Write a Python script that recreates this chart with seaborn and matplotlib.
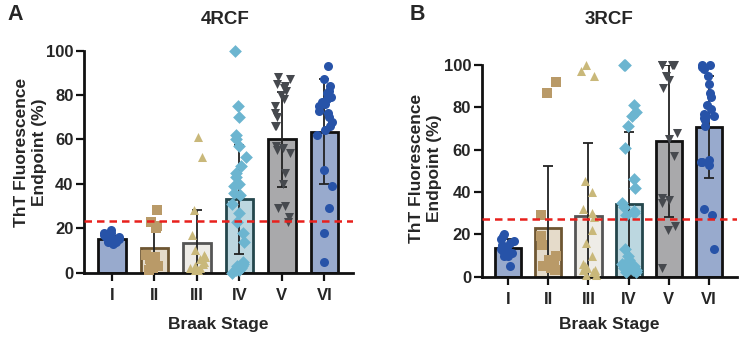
import numpy as np
import pandas as pd
import seaborn as sns
import matplotlib.pyplot as plt

sns.set_theme(style="ticks")
plt.rcParams["font.family"] = ["Liberation Sans", "DejaVu Sans"]
plt.rcParams["font.weight"] = "bold"
np.random.seed(3)

stages = ["I", "II", "III", "IV", "V", "VI"]

# panel A - 4RCF
a_pts = {
    "I": [13, 14, 14, 15, 15, 16, 16, 17, 17, 18, 18, 19],
    "II": [28, 23, 21, 20, 8, 7, 6, 5, 4, 3, 2, 1],
    "III": [61, 52, 28, 17, 10, 8, 7, 6, 5, 4, 3, 2, 2, 1, 1],
    "IV": [100, 75, 70, 62, 60, 57, 52, 48, 45, 43, 40, 39, 36, 35, 31, 27, 23,
           18, 14, 5, 4, 3, 3, 2, 2, 1, 1, 0],
    "V": [88, 87, 85, 84, 83, 82, 80, 78, 75, 72, 70, 66, 66, 57, 56, 55, 54, 45,
          40, 30, 29, 25, 23],
    "VI": [93, 87, 84, 82, 81, 79, 78, 77, 76, 75, 73, 72, 70, 68, 66, 64, 62, 46,
           39, 29, 18, 5],
}
a_mean = [15, 11, 13.5, 33, 60, 63.5]
a_sd = [1.5, 10, 14.5, 24.5, 21.5, 23.5]
a_cut = 23.3

# panel B - 3RCF
b_pts = {
    "I": [20, 19, 18, 17, 16, 15, 14, 13, 12, 11, 11, 10, 10, 5],
    "II": [92, 87, 29, 19, 15, 10, 8, 6, 5, 5, 4, 3],
    "III": [100, 97, 95, 45, 40, 32, 30, 28, 22, 16, 10, 6, 5, 4, 3, 3, 2, 2, 1, 1],
    "IV": [100, 100, 81, 78, 76, 71, 61, 46, 42, 35, 33, 31, 30, 29, 13, 10, 8, 6,
           5, 5, 4, 4, 3, 3, 2, 2],
    "V": [100, 100, 100, 100, 100, 95, 93, 89, 68, 65, 57, 37, 36, 35, 24, 22, 4],
    "VI": [100, 100, 99, 98, 95, 91, 87, 85, 81, 79, 77, 76, 76, 75, 74, 71, 55, 54,
           54, 53, 32, 29, 13],
}
b_mean = [13.7, 23, 28.8, 34.5, 64, 70.6]
b_sd = [4, 29.4, 34.4, 33.7, 36, 24]
b_cut = 27.3

bar_fill = ["#8fa7d6", "#e9dcc6", "#efece6", "#b6dae6", "#a9a9ab", "#8fa7d6"]
bar_edge = ["#111111", "#6e5632", "#555555", "#24464c", "#111111", "#111111"]
pt_color = ["#2753a8", "#b99a68", "#c9b87a", "#6cb5d0", "#46494e", "#2753a8"]
markers = ["o", "s", "^", "D", "v", "o"]


def panel(ax, pts, means, sds, cut, xlab_y, ylab_x, ylab_y):
    sns.barplot(x=stages, y=means, hue=stages, palette=bar_fill, legend=False,
                width=0.65, ax=ax, zorder=1)
    for p, ec in zip(ax.patches, bar_edge):
        p.set_edgecolor(ec)
        p.set_linewidth(2)
    ax.errorbar(range(len(stages)), means, yerr=sds, fmt="none", ecolor="#222222",
                elinewidth=1.3, capsize=3.5, capthick=1.3, zorder=2)
    for i, s in enumerate(stages):
        sns.stripplot(x=[s] * len(pts[s]), y=pts[s], order=stages, color=pt_color[i],
                      marker=markers[i], size=6.5, linewidth=0, jitter=0.2, ax=ax,
                      zorder=3, clip_on=False)
    ax.axhline(cut, color="#e8201c", ls=(0, (3, 2)), lw=1.8, zorder=4)
    ax.set_ylim(0, 100)
    ax.set_xlim(-0.66, 5.68)
    ax.set_yticks([0, 20, 40, 60, 80, 100])
    ax.set_xlabel("Braak Stage", fontsize=12.5, fontweight="bold")
    ax.set_ylabel("ThT Fluorescence\nEndpoint (%)", fontsize=12.5, fontweight="bold")
    ax.xaxis.set_label_coords(0.5, xlab_y)
    ax.yaxis.set_label_coords(ylab_x, ylab_y)
    ax.tick_params(axis="both", width=1.6, length=6, labelsize=12, color="#111111")
    ax.tick_params(axis="x", pad=5)
    ax.tick_params(axis="y", pad=1.5)
    for lab in ax.get_xticklabels() + ax.get_yticklabels():
        lab.set_fontweight("bold")
    for sp in ["left", "bottom"]:
        ax.spines[sp].set_linewidth(2)
        ax.spines[sp].set_color("#111111")
    sns.despine(ax=ax)


fig = plt.figure(figsize=(7.5, 3.37), dpi=100)
ax1 = fig.add_axes([0.112, 0.191, 0.359, 0.659])
ax2 = fig.add_axes([0.642, 0.179, 0.340, 0.628])
panel(ax1, a_pts, a_mean, a_sd, a_cut, -0.2, -0.138, 0.54)
panel(ax2, b_pts, b_mean, b_sd, b_cut, -0.19, -0.156, 0.51)

fig.text(225 / 750, 1 - 20 / 337, "4RCF", fontsize=13.5, fontweight="bold",
         ha="center", va="center")
fig.text(609 / 750, 1 - 20 / 337, "3RCF", fontsize=13.5, fontweight="bold",
         ha="center", va="center")
fig.text(7 / 750, 1 - 15 / 337, "A", fontsize=15.5, fontweight="bold", va="center")
fig.text(410 / 750, 1 - 15 / 337, "B", fontsize=15.5, fontweight="bold", va="center")

fig.savefig("out.png", dpi=100)
